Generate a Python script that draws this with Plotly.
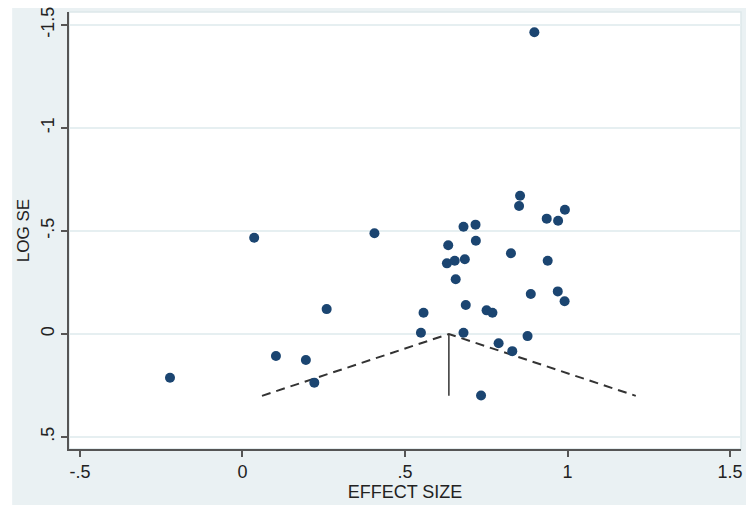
import plotly.graph_objects as go

effect_size = [-0.223, 0.036, 0.103, 0.195, 0.221, 0.259, 0.406, 0.557, 0.549, 0.633,
               0.629, 0.653, 0.684, 0.656, 0.680, 0.717, 0.718, 0.687, 0.680, 0.734,
               0.751, 0.769, 0.788, 0.826, 0.830, 0.854, 0.851, 0.877, 0.887, 0.898,
               0.936, 0.939, 0.971, 0.970, 0.992, 0.991]
log_se = [0.212, -0.467, 0.107, 0.126, 0.236, -0.121, -0.489, -0.103, -0.006, -0.431,
          -0.343, -0.356, -0.363, -0.266, -0.521, -0.531, -0.453, -0.141, -0.006, 0.298,
          -0.115, -0.103, 0.045, -0.392, 0.083, -0.671, -0.621, 0.010, -0.194, -1.465,
          -0.560, -0.356, -0.550, -0.207, -0.603, -0.159]

funnel_x = [0.06, 0.635, 1.21]
funnel_y = [0.3, 0.0, 0.3]
center_x = [0.635, 0.635]
center_y = [0.0, 0.3]

x_ticks = [-0.5, 0, 0.5, 1, 1.5]
x_labels = ["-.5", "0", ".5", "1", "1.5"]
y_ticks = [-1.5, -1, -0.5, 0, 0.5]
y_labels = ["-1.5", "-1", "-.5", "0", ".5"]

BG = "#eaf1f3"
FONT = "Liberation Sans, Arial, sans-serif"

fig = go.Figure()
fig.add_trace(go.Scatter(x=funnel_x, y=funnel_y, mode="lines",
                         line=dict(color="#333333", width=2, dash="9px,6px"),
                         hoverinfo="skip", showlegend=False))
fig.add_trace(go.Scatter(x=center_x, y=center_y, mode="lines",
                         line=dict(color="#333333", width=1.5),
                         hoverinfo="skip", showlegend=False))
fig.add_trace(go.Scatter(x=effect_size, y=log_se, mode="markers",
                         marker=dict(color="#1b4571", size=10),
                         showlegend=False))

fig.update_layout(
    width=746, height=506,
    margin=dict(l=69, r=3, t=12, b=57),
    paper_bgcolor=BG, plot_bgcolor="white",
    font=dict(family=FONT, size=16, color="#222222"),
    showlegend=False,
    shapes=[
        dict(type="rect", xref="paper", yref="paper", x0=-0.2, x1=(12 - 69) / 674, y0=-0.3, y1=1.1,
             fillcolor="white", line=dict(width=0), layer="below"),
        dict(type="rect", xref="paper", yref="paper", x0=-0.2, x1=1.1, y0=(449 - 8) / 437, y1=1.1,
             fillcolor="white", line=dict(width=0), layer="below"),
        dict(type="rect", xref="paper", yref="paper", x0=-0.2, x1=1.1, y0=-0.3, y1=(449 - 505) / 437,
             fillcolor="white", line=dict(width=0), layer="below"),
        dict(type="rect", xref="paper", yref="paper", x0=0, x1=1, y0=0, y1=1,
             fillcolor="rgba(0,0,0,0)", line=dict(color="#dde8ea", width=1.5), layer="below"),
    ],
)

fig.update_xaxes(
    range=[-0.5337, 1.5337], tickvals=x_ticks, ticktext=x_labels,
    showgrid=False, zeroline=False,
    showline=True, linecolor="#555555", linewidth=1.5,
    ticks="outside", ticklen=6, tickcolor="#555555", tickwidth=1.5,
    tickfont=dict(size=18, family=FONT, color="#222222"),
    title=dict(text="EFFECT SIZE", font=dict(size=18, family=FONT, color="#222222"), standoff=0),
)
fig.update_yaxes(
    range=[0.558, -1.563], tickvals=y_ticks, ticktext=y_labels,
    showgrid=True, gridcolor="#e6eff1", gridwidth=1.5, zeroline=False,
    showline=True, linecolor="#555555", linewidth=1.5,
    ticks="outside", ticklen=6, tickcolor="#555555", tickwidth=1.5,
    tickangle=-90,
    tickfont=dict(size=18, family=FONT, color="#222222"),
    title=dict(text="LOG SE", font=dict(size=17, family=FONT, color="#222222"), standoff=4),
)

fig.write_html("out.html")
